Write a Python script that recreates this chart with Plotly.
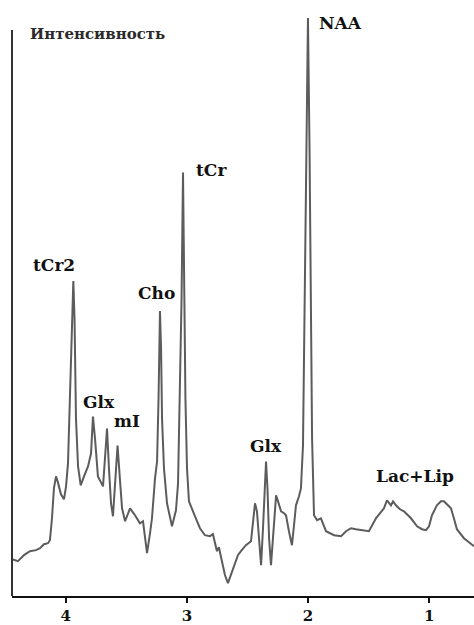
import plotly.graph_objects as go

# Chemical shift (ppm) and signal intensity (a.u.)
ppm = [4.443, 4.394, 4.344, 4.295, 4.245, 4.212, 4.179, 4.146, 4.130, 4.113,
       4.097, 4.080, 4.064, 4.039, 4.014, 3.997, 3.981, 3.964, 3.948, 3.937,
       3.927, 3.915, 3.898, 3.876, 3.849, 3.816, 3.791, 3.775, 3.758, 3.734,
       3.709, 3.692, 3.676, 3.659, 3.643, 3.626, 3.610, 3.593, 3.572, 3.556,
       3.535, 3.510, 3.469, 3.428, 3.387, 3.362, 3.329, 3.304, 3.288, 3.263,
       3.246, 3.234, 3.226, 3.222, 3.213, 3.205, 3.189, 3.164, 3.123, 3.090,
       3.073, 3.057, 3.044, 3.032, 3.024, 3.012, 2.999, 2.983, 2.933, 2.892,
       2.851, 2.810, 2.785, 2.752, 2.736, 2.686, 2.661, 2.620, 2.579, 2.554,
       2.513, 2.471, 2.455, 2.438, 2.422, 2.405, 2.388, 2.372, 2.355, 2.347,
       2.335, 2.322, 2.306, 2.289, 2.264, 2.248, 2.223, 2.198, 2.182, 2.158,
       2.133, 2.116, 2.100, 2.075, 2.059, 2.042, 2.026, 2.013, 2.001, 1.988,
       1.976, 1.967, 1.951, 1.926, 1.894, 1.852, 1.786, 1.728, 1.687, 1.646,
       1.605, 1.564, 1.498, 1.440, 1.399, 1.374, 1.349, 1.316, 1.299, 1.275,
       1.242, 1.209, 1.176, 1.151, 1.101, 1.060, 1.027, 1.002, 0.978, 0.937,
       0.904, 0.879, 0.846, 0.821, 0.797, 0.772, 0.714, 0.681, 0.631]
intensity = [37, 35, 41, 45, 46, 48, 52, 53, 56, 78,
             108, 120, 114, 102, 97, 110, 133, 198, 278, 316,
             278, 178, 130, 111, 120, 130, 143, 180, 158, 120,
             114, 110, 138, 168, 128, 93, 80, 118, 151, 123,
             88, 75, 88, 81, 73, 75, 43, 63, 78, 118,
             135, 198, 258, 286, 248, 178, 128, 93, 70, 86,
             113, 198, 298, 425, 338, 198, 128, 95, 80, 68,
             61, 60, 62, 45, 49, 21, 13, 26, 41, 45,
             51, 55, 73, 93, 85, 53, 31, 68, 123, 135,
             108, 58, 31, 63, 101, 95, 85, 83, 81, 65,
             51, 71, 91, 100, 108, 151, 298, 448, 580, 448,
             248, 158, 81, 76, 78, 65, 61, 60, 65, 68,
             67, 66, 65, 78, 85, 88, 96, 91, 95, 91,
             87, 85, 81, 78, 70, 67, 66, 70, 81, 91,
             95, 95, 91, 88, 78, 67, 58, 55, 50]

tick_vals = [4, 3, 2, 1]
tick_text = ["4", "3", "2", "1"]

peak_labels = ["NAA", "tCr", "tCr2", "Cho", "Glx", "mI", "Glx", "Lac+Lip"]
label_x = [1.733, 2.793, 4.097, 3.251, 3.725, 3.498, 2.347, 1.118]
label_y = [575, 427, 332, 304, 195, 176, 151, 120]

y_title = "Интенсивность"

SERIF = "DejaVu Serif"

fig = go.Figure()
fig.add_trace(go.Scatter(
    x=ppm, y=intensity, mode="lines",
    line=dict(color="#5c5c5c", width=2),
    hoverinfo="skip", showlegend=False,
))

for txt, lx, ly in zip(peak_labels, label_x, label_y):
    fig.add_annotation(x=lx, y=ly, xref="x", yref="y", text=f"<b>{txt}</b>",
                       showarrow=False, xanchor="center", yanchor="middle",
                       font=dict(family=SERIF, size=17, color="#111111"))

fig.add_annotation(x=4.311, y=564, xref="x", yref="y", text=f"<b>{y_title}</b>",
                   showarrow=False, xanchor="left", yanchor="middle",
                   font=dict(family=SERIF, size=15, color="#2a2a2a"))

# left (intensity) axis line
fig.add_shape(type="line", xref="paper", yref="y", x0=0, x1=0, y0=0, y1=568,
              line=dict(color="#333333", width=2))

fig.update_layout(
    width=474, height=625,
    margin=dict(l=12, r=0, t=10, b=27),
    paper_bgcolor="white", plot_bgcolor="white",
    xaxis=dict(range=[4.443, 0.631], showgrid=False, zeroline=False,
               showline=True, linecolor="#111111", linewidth=2,
               ticks="outside", ticklen=5, tickwidth=2, tickcolor="#111111",
               tickvals=tick_vals, ticktext=[f"<b>{t}</b>" for t in tick_text],
               tickfont=dict(family=SERIF, size=15, color="#111111")),
    yaxis=dict(range=[0, 588], visible=False, showgrid=False, zeroline=False),
)

fig.write_html("out.html")
